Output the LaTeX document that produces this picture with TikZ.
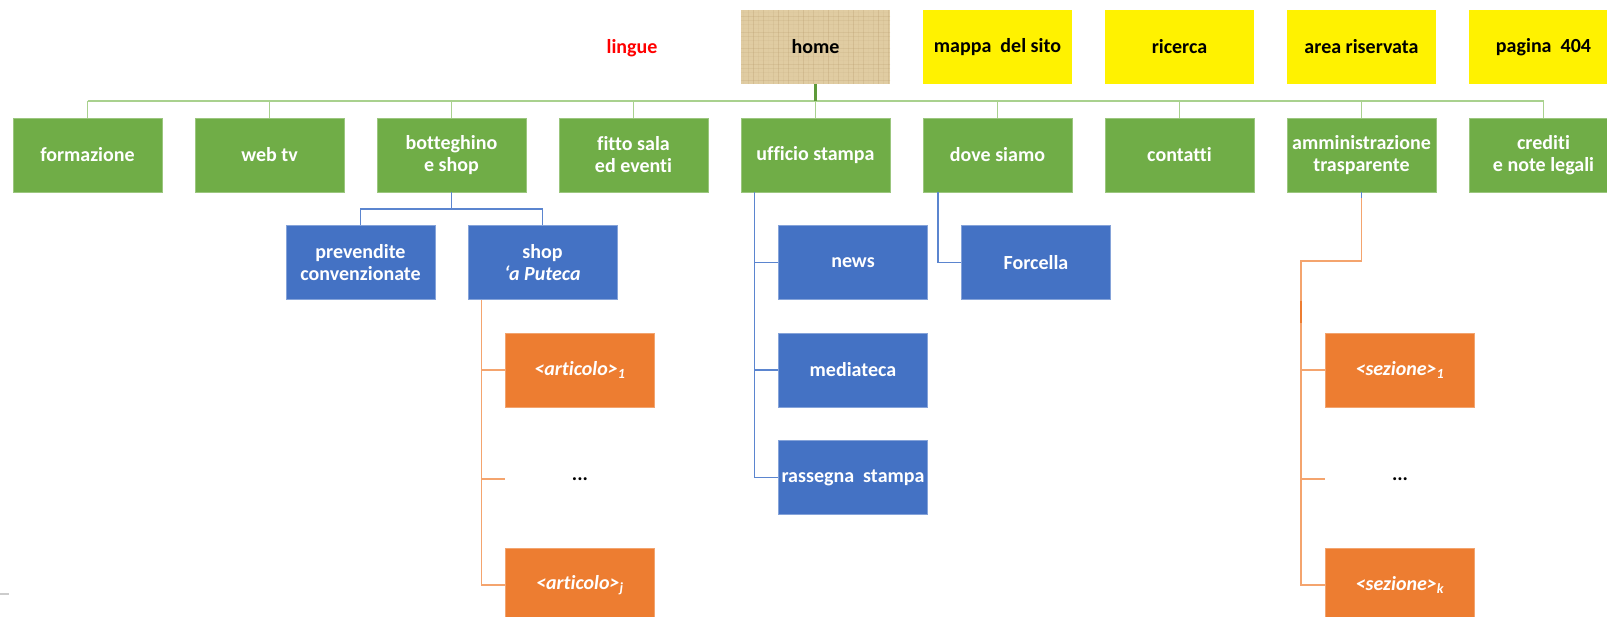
\documentclass[tikz,border=0pt]{standalone}
\usepackage{fontspec}
\setmainfont{Carlito}[Ligatures=NoCommon]
\usetikzlibrary{calc}
\definecolor{gbox}{HTML}{70AD47}
\definecolor{bbox}{HTML}{4472C4}
\definecolor{obox}{HTML}{ED7D31}
\definecolor{glinec}{HTML}{A9D18E}
\definecolor{blinec}{HTML}{5B85CF}
\definecolor{olinec}{HTML}{F4A46E}
\definecolor{papyrus}{HTML}{E0CCA2}
\definecolor{papyrusd}{HTML}{B49868}
\definecolor{lingred}{HTML}{FF0000}
\definecolor{hstem}{HTML}{5E9A3A}
\begin{document}
\begin{tikzpicture}[x=0.75pt,y=-0.75pt,
  box/.style={minimum width=111.75pt, minimum height=55.5pt, inner sep=0pt, align=center,
    font=\fontsize{15}{16.5}\selectfont\bfseries, text=white},
  gnode/.style={box, fill=gbox, draw=gbox!70!white, line width=0.5pt},
  bnode/.style={box, fill=bbox, draw=bbox!65!white, line width=0.5pt},
  onode/.style={box, fill=obox, draw=obox!70!white, line width=0.5pt},
  ynode/.style={box, fill=yellow, text=black},
  txt/.style={inner sep=0pt, font=\fontsize{15}{16.5}\selectfont\bfseries},
  gconn/.style={draw=glinec, line width=1.2pt},
  bconn/.style={draw=blinec, line width=1.1pt},
  oconn/.style={draw=olinec, line width=1.1pt},
  papyrusbox/.style={box, text=black, fill=papyrus,
    path picture={
      \foreach \i [evaluate=\i as \op using {0.05+0.06*mod(\i*7,5)}] in {0,...,29}{
        \draw[papyrusd, opacity=\op, line width=0.6pt]
          ($(path picture bounding box.north west)+(\i*5+2,0)$) -- ++(0,80);}
      \foreach \i [evaluate=\i as \op using {0.04+0.06*mod(\i*3,4)}] in {0,...,18}{
        \draw[papyrusd, opacity=\op, line width=0.6pt]
          ($(path picture bounding box.north west)+(0,\i*4+2)$) -- ++(160,0);}
    }},
]
\useasboundingbox (0,0) rectangle (1607,617);
\clip (0,0) rectangle (1607,617);

% top row
\node[txt, text=lingred] (lingue) at (632,48) {lingue};
\node[papyrusbox] (home) at (815.5,47) {home};
\node[ynode] (mappa) at (997.5,47) {mappa\ \ del sito};
\node[ynode] (ricerca) at (1179.5,47) {ricerca};
\node[ynode] (area) at (1361.5,47) {area riservata};
\node[ynode] (pagina) at (1543.5,47) {pagina\ \ 404};

% green row
\node[gnode] (formazione) at (87.5,155) {formazione};
\node[gnode] (webtv) at (269.5,155) {web tv};
\node[gnode] (botteghino) at (451.5,155) {botteghino\\e shop};
\node[gnode] (fitto) at (633.5,155) {fitto sala\\ed eventi};
\node[gnode] (ufficio) at (815.5,155) {ufficio stampa};
\node[gnode] (dove) at (997.5,155) {dove siamo};
\node[gnode] (contatti) at (1179.5,155) {contatti};
\node[gnode] (amm) at (1361.5,155) {amministrazione\\trasparente};
\node[gnode] (crediti) at (1543.5,155) {crediti\\e note legali};

% blue
\node[bnode] (prevendite) at (360.5,262.5) {prevendite\\convenzionate};
\node[bnode] (shop) at (542.5,262.5) {shop\\\textit{‘a Puteca}};
\node[bnode] (news) at (853,262.5) {news};
\node[bnode] (mediateca) at (853,370) {mediateca};
\node[bnode] (rassegna) at (853,477.5) {rassegna\ \ stampa};
\node[bnode] (forcella) at (1036,262.5) {Forcella};

% orange
\node[onode] (art1) at (580,370) {\textit{<articolo>\textsubscript{1}}};
\node[txt] (artdots) at (580,479) {...};
\node[onode] (artj) at (580,585) {\textit{<articolo>\textsubscript{j}}};
\node[onode] (sez1) at (1400,370) {\textit{<sezione>\textsubscript{1}}};
\node[txt] (sezdots) at (1400,479) {...};
\node[onode] (sezk) at (1400,585) {\textit{<sezione>\textsubscript{k}}};

% main bus
\coordinate (bus) at (0,101);
\draw[gconn] (formazione.north |- bus) -- (crediti.north |- bus);
\foreach \n in {formazione,webtv,botteghino,fitto,ufficio,dove,contatti,amm,crediti}
  \draw[gconn] (\n.north) -- (\n.north |- bus);
\draw[draw=hstem, line width=2pt] (home.south) -- (home.south |- bus);

% botteghino bracket
\coordinate (bb) at (0,209);
\draw[bconn] (botteghino.south) -- (botteghino.south |- bb);
\draw[bconn] (prevendite.north) -- (prevendite.north |- bb) -- (shop.north |- bb) -- (shop.north);

% ufficio stampa
\coordinate (uf) at ($(ufficio.south west)+(14,0)$);
\draw[bconn] (uf) |- (rassegna.west);
\draw[bconn] (news.west) -- (news.west -| uf);
\draw[bconn] (mediateca.west) -- (mediateca.west -| uf);

% dove siamo
\coordinate (dv) at ($(dove.south west)+(15.5,0)$);
\draw[bconn] (dv) |- (forcella.west);

% shop articles
\coordinate (sp) at ($(shop.south west)+(14,0)$);
\draw[oconn] (sp) |- (artj.west);
\draw[oconn] (art1.west) -- (art1.west -| sp);
\draw[oconn] (sp |- artdots) -- (art1.west |- artdots);

% amministrazione sections
\coordinate (amk) at (1301,261);
\draw[oconn] (amm.south) -- (amm.south |- amk) -- (amk) |- (sezk.west);
\draw[bconn] (amm.south) -- ++(0,6);
\draw[oconn] (sez1.west) -- (sez1.west -| amk);
\draw[oconn] (amk |- sezdots) -- (sez1.west |- sezdots);
\coordinate (thk1) at (1301,301);
\coordinate (thk2) at (1301,323);
\draw[draw=obox, line width=2.2pt] (thk1) -- (thk2);

% stray mark bottom-left
\coordinate (gm1) at (0,594);
\coordinate (gm2) at (9,594);
\draw[draw=gray!40, line width=1.2pt] (gm1) -- (gm2);
\end{tikzpicture}
\end{document}
